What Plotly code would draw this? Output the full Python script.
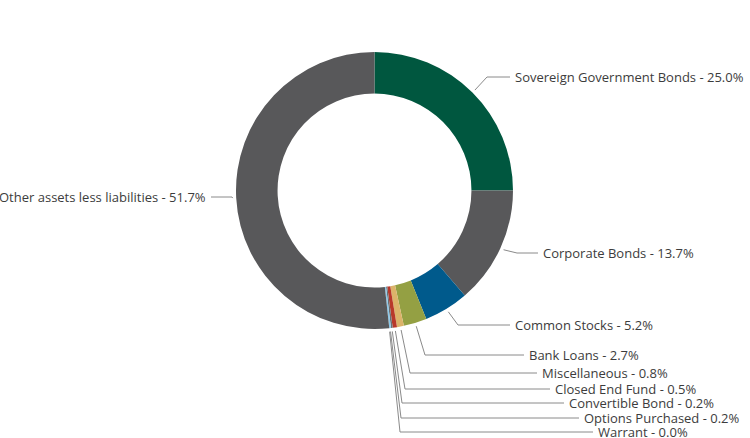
import numpy as np
import plotly.graph_objects as go

categories = ["Sovereign Government Bonds", "Corporate Bonds", "Common Stocks", "Bank Loans",
              "Miscellaneous", "Closed End Fund", "Convertible Bond", "Options Purchased",
              "Warrant", "Other assets less liabilities"]
values = [25.0, 13.7, 5.2, 2.7, 0.8, 0.5, 0.2, 0.2, 0.0, 51.7]
colors = ["#00573f", "#58585a", "#005a8c", "#94a043", "#dcb36a", "#b8382a",
          "#6d6e71", "#8cc8e8", "#d0d0d0", "#58585a"]

# layout (pixels)
W, H = 750, 438
CX, CY, R = 374.5, 190.5, 138.5
HOLE = 0.70
label_side = ["r", "r", "r", "r", "r", "r", "r", "r", "r", "l"]
label_x = [513, 541, 513, 527, 540, 553, 567, 582, 596, 208]
label_y = [77, 253, 325, 355, 373, 389, 403, 418, 432, 197]
elbow_x = [487, 517, 458, 425, 410, 405, 402, 401, 400, 232]
ANCHOR_R = R + 3.5

def px(x):
    return x / W

def py(y):
    return 1 - y / H

fig = go.Figure(go.Pie(
    labels=categories, values=values, hole=HOLE, sort=False, direction="clockwise",
    rotation=0, textinfo="none", marker=dict(colors=colors, line=dict(width=0)),
    domain=dict(x=[px(CX - R), px(CX + R)], y=[py(CY + R), py(CY - R)]),
    showlegend=False,
))

total = sum(values)
cum = np.cumsum([0] + values[:-1])
shapes, annotations = [], []
for i, (cat, v) in enumerate(zip(categories, values)):
    mid = (cum[i] + v / 2) / total * 2 * np.pi
    ax = CX + ANCHOR_R * np.sin(mid)
    ay = CY - ANCHOR_R * np.cos(mid)
    ly = label_y[i]
    if label_side[i] == "r":
        end_x = label_x[i] - 3
    else:
        end_x = label_x[i] + 3
    path = f"M {px(ax)},{py(ay)} L {px(elbow_x[i])},{py(ly)} L {px(end_x)},{py(ly)}"
    shapes.append(dict(type="path", xref="paper", yref="paper", path=path,
                       line=dict(color="#8a8a8a", width=1)))
    annotations.append(dict(
        x=px(label_x[i]), y=py(ly), xref="paper", yref="paper",
        text=f"{cat} - {v:.1f}%", showarrow=False,
        xanchor="left" if label_side[i] == "r" else "right", yanchor="middle",
        font=dict(family="Open Sans", size=13, color="#3c3c3c"),
    ))

fig.update_layout(
    width=W, height=H, margin=dict(l=0, r=0, t=0, b=0),
    paper_bgcolor="white", plot_bgcolor="white",
    shapes=shapes, annotations=annotations,
)

fig.write_html("out.html")
